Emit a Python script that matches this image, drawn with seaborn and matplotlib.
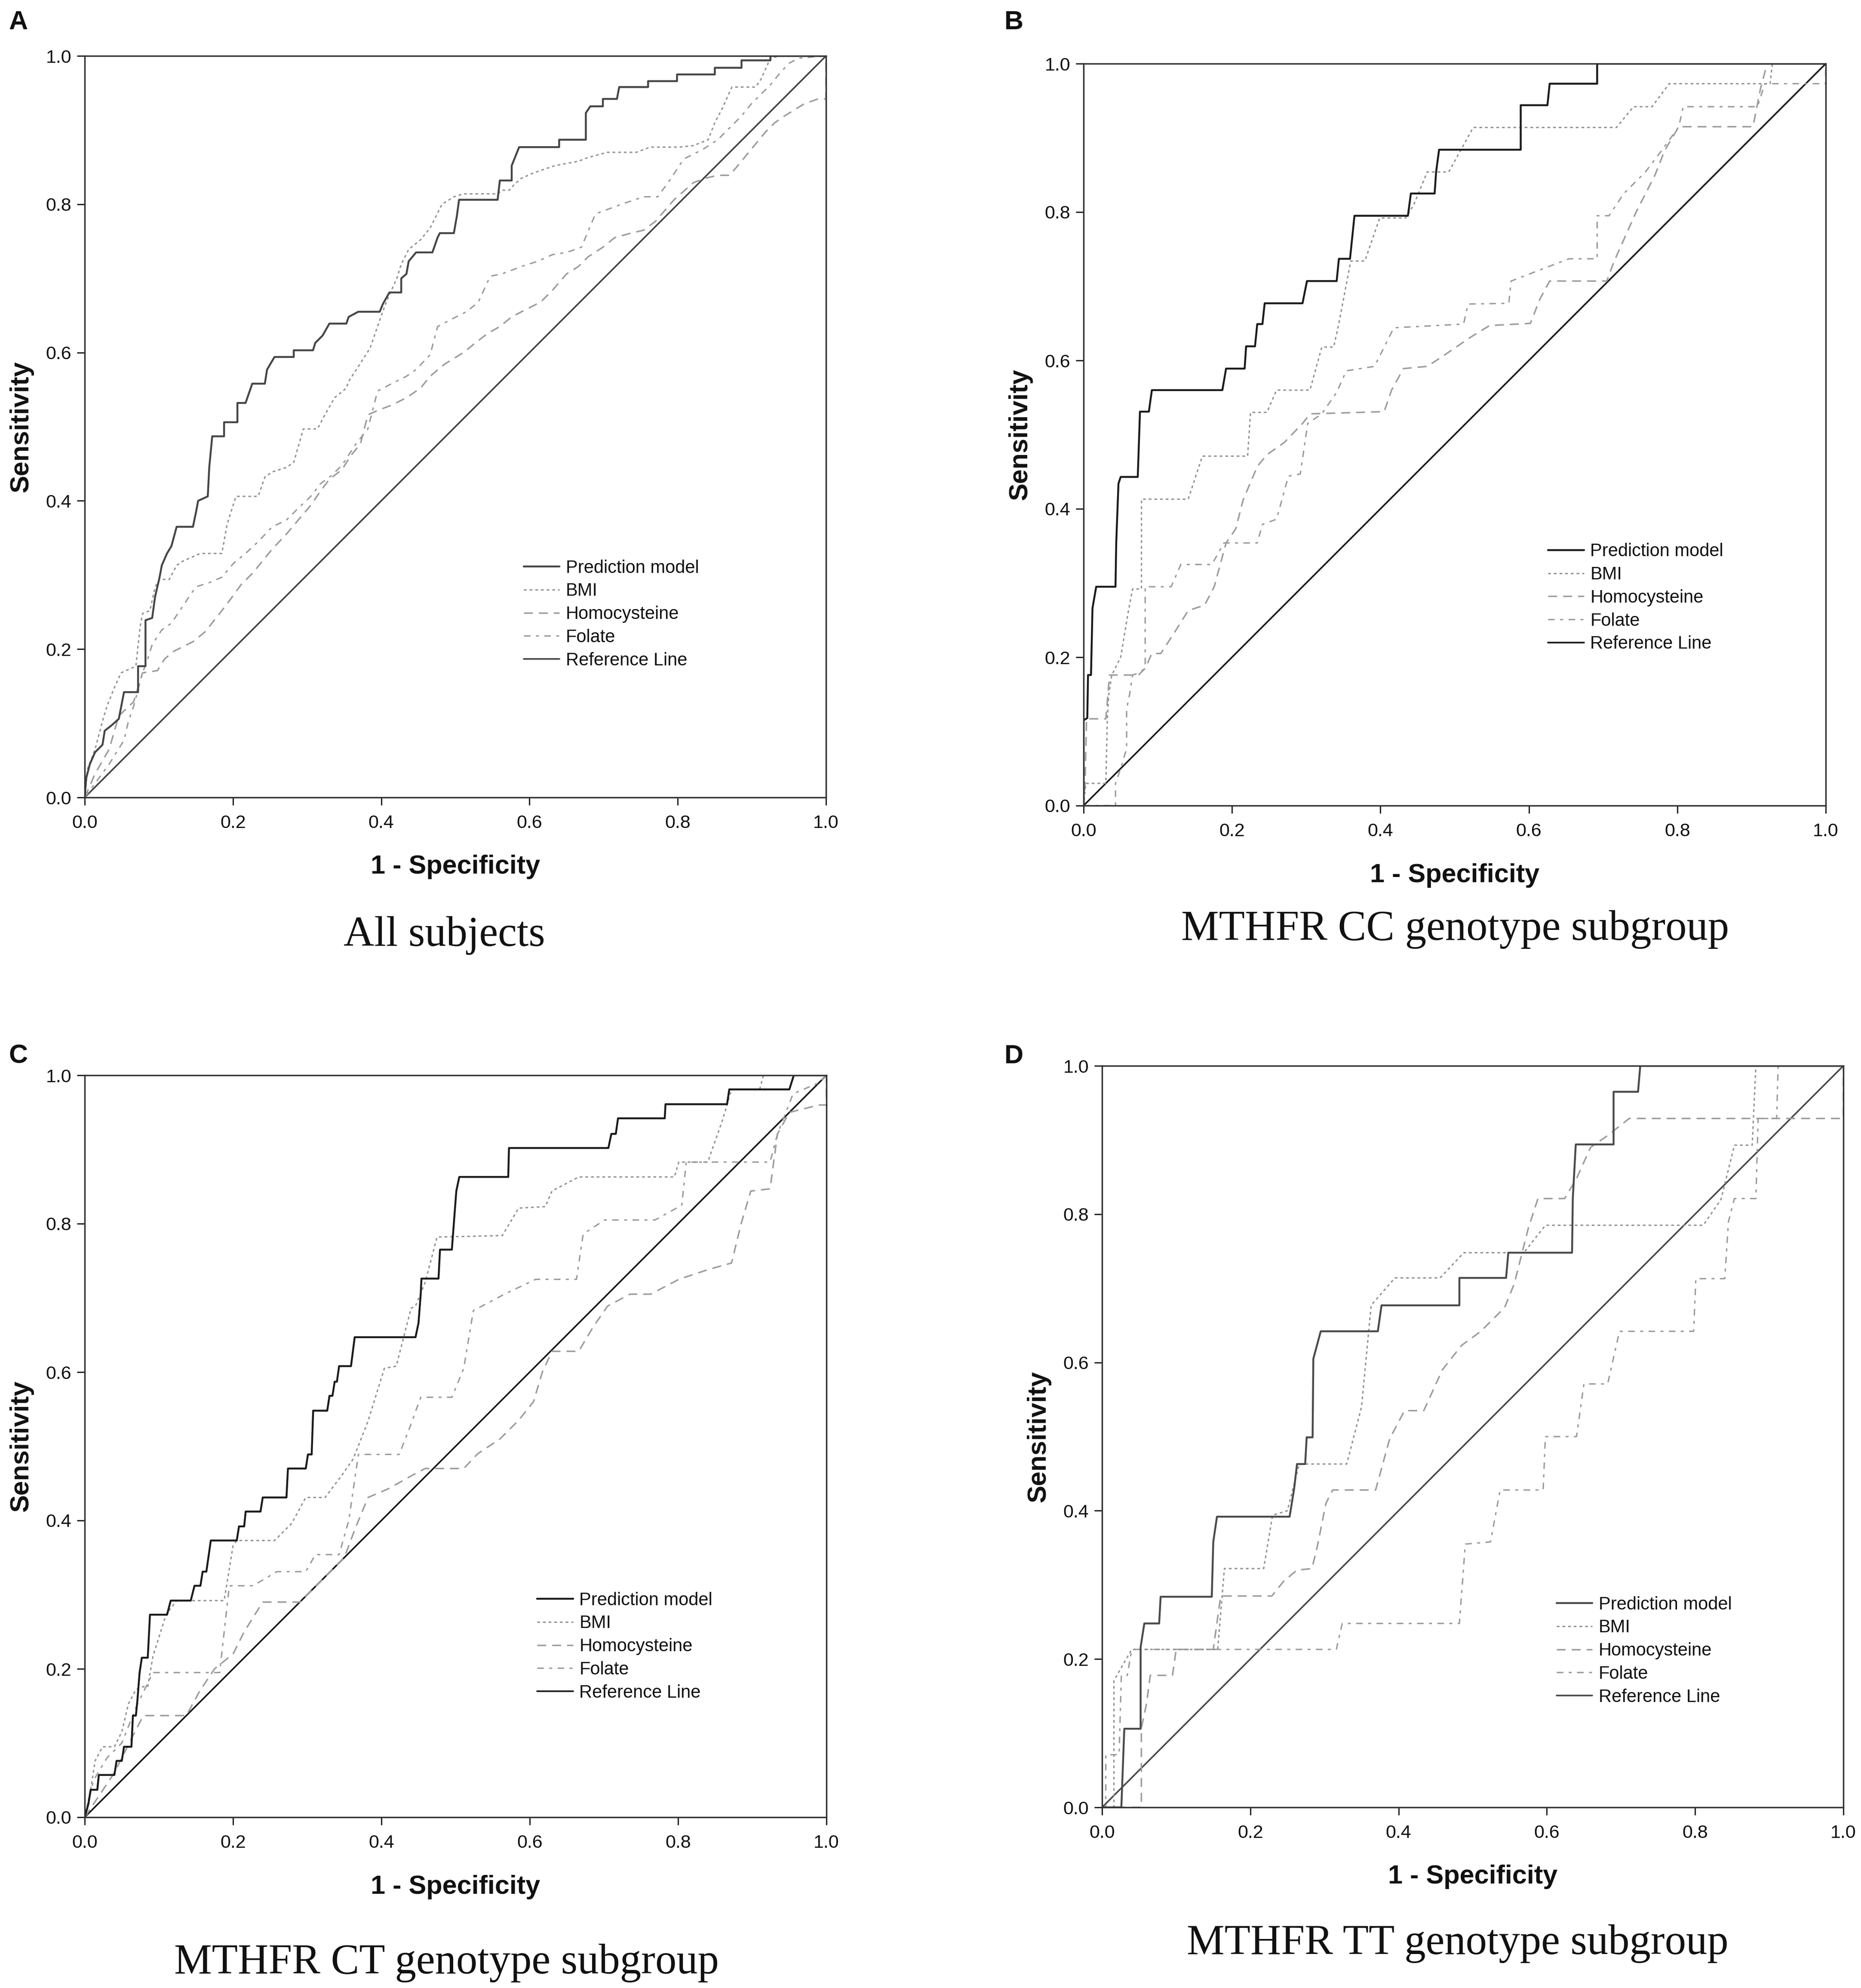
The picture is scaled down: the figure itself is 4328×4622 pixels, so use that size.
import matplotlib
matplotlib.use('Agg')
import matplotlib.pyplot as plt
import seaborn as sns
import pandas as pd

sns.set_theme(style='white')
plt.rcParams['font.family'] = ['Liberation Sans', 'DejaVu Sans']
plt.rcParams['lines.scale_dashes'] = False

# Legend / series names
series_names = ['Prediction model', 'BMI', 'Homocysteine', 'Folate']
ref_name = 'Reference Line'
panel_letters = ['A', 'B', 'C', 'D']
panel_titles = ['All subjects', 'MTHFR CC genotype subgroup',
                'MTHFR CT genotype subgroup', 'MTHFR TT genotype subgroup']
tick_values = [0.0, 0.2, 0.4, 0.6, 0.8, 1.0]
tick_labels = ['0.0', '0.2', '0.4', '0.6', '0.8', '1.0']

# ROC points (1 - specificity, sensitivity)
# Panel A - all subjects
a_pred = [(0, 0), (0.002, 0.026), (0.007, 0.045), (0.014, 0.061), (0.024, 0.071), (0.027, 0.090),
          (0.036, 0.097), (0.046, 0.106), (0.053, 0.142), (0.072, 0.142), (0.072, 0.177), (0.082, 0.177),
          (0.082, 0.239), (0.091, 0.242), (0.095, 0.271), (0.101, 0.297), (0.104, 0.313), (0.111, 0.329),
          (0.117, 0.339), (0.124, 0.365), (0.146, 0.365), (0.150, 0.384), (0.153, 0.400), (0.166, 0.406),
          (0.168, 0.445), (0.172, 0.487), (0.188, 0.487), (0.188, 0.506), (0.206, 0.506), (0.206, 0.532),
          (0.217, 0.532), (0.226, 0.558), (0.243, 0.558), (0.246, 0.577), (0.256, 0.594), (0.282, 0.594),
          (0.282, 0.603), (0.308, 0.603), (0.311, 0.613), (0.321, 0.623), (0.330, 0.639), (0.353, 0.639),
          (0.356, 0.648), (0.369, 0.655), (0.398, 0.655), (0.402, 0.665), (0.411, 0.681), (0.427, 0.681),
          (0.427, 0.700), (0.434, 0.706), (0.437, 0.723), (0.447, 0.735), (0.469, 0.735), (0.476, 0.755),
          (0.479, 0.761), (0.498, 0.761), (0.502, 0.784), (0.505, 0.806), (0.557, 0.806), (0.560, 0.832),
          (0.576, 0.832), (0.576, 0.852), (0.586, 0.877), (0.640, 0.877), (0.640, 0.887), (0.676, 0.887),
          (0.676, 0.923), (0.682, 0.932), (0.699, 0.932), (0.699, 0.942), (0.718, 0.942), (0.721, 0.958),
          (0.760, 0.958), (0.760, 0.966), (0.799, 0.966), (0.799, 0.975), (0.850, 0.975), (0.850, 0.984),
          (0.886, 0.984), (0.886, 0.994), (0.925, 0.994), (0.925, 1.0), (1.0, 1.0)]
a_bmi = [(0, 0), (0.004, 0.039), (0.014, 0.065), (0.024, 0.103), (0.030, 0.123), (0.040, 0.148),
         (0.049, 0.168), (0.069, 0.177), (0.075, 0.232), (0.078, 0.248), (0.088, 0.252), (0.095, 0.284),
         (0.101, 0.294), (0.114, 0.294), (0.124, 0.313), (0.133, 0.319), (0.156, 0.329), (0.185, 0.329),
         (0.192, 0.368), (0.204, 0.406), (0.234, 0.406), (0.243, 0.432), (0.253, 0.439), (0.272, 0.445),
         (0.282, 0.452), (0.295, 0.497), (0.314, 0.497), (0.324, 0.516), (0.337, 0.539), (0.353, 0.552),
         (0.356, 0.561), (0.369, 0.581), (0.385, 0.606), (0.395, 0.635), (0.402, 0.655), (0.408, 0.671),
         (0.421, 0.700), (0.427, 0.719), (0.437, 0.739), (0.453, 0.752), (0.466, 0.768), (0.482, 0.800),
         (0.498, 0.810), (0.511, 0.814), (0.557, 0.814), (0.563, 0.819), (0.573, 0.819), (0.579, 0.826),
         (0.589, 0.835), (0.605, 0.842), (0.634, 0.852), (0.666, 0.858), (0.679, 0.863), (0.705, 0.870),
         (0.744, 0.870), (0.763, 0.877), (0.802, 0.877), (0.821, 0.879), (0.841, 0.887), (0.850, 0.910),
         (0.860, 0.929), (0.873, 0.958), (0.905, 0.958), (0.912, 0.968), (0.925, 0.997), (0.938, 1.0),
         (1.0, 1.0)]
a_hcy = [(0, 0), (0.014, 0.032), (0.033, 0.065), (0.046, 0.110), (0.066, 0.129), (0.078, 0.168),
         (0.098, 0.171), (0.108, 0.187), (0.120, 0.197), (0.146, 0.210), (0.162, 0.223), (0.182, 0.248),
         (0.195, 0.265), (0.211, 0.287), (0.227, 0.303), (0.253, 0.335), (0.272, 0.355), (0.288, 0.374),
         (0.305, 0.394), (0.318, 0.413), (0.330, 0.429), (0.347, 0.442), (0.359, 0.461), (0.372, 0.477),
         (0.382, 0.516), (0.398, 0.523), (0.414, 0.529), (0.434, 0.539), (0.453, 0.552), (0.466, 0.568),
         (0.485, 0.584), (0.511, 0.600), (0.527, 0.613), (0.544, 0.626), (0.560, 0.635), (0.576, 0.648),
         (0.595, 0.658), (0.615, 0.668), (0.631, 0.684), (0.650, 0.706), (0.666, 0.716), (0.679, 0.729),
         (0.699, 0.742), (0.715, 0.755), (0.737, 0.761), (0.754, 0.765), (0.770, 0.777), (0.795, 0.806),
         (0.821, 0.829), (0.837, 0.835), (0.854, 0.839), (0.870, 0.839), (0.886, 0.858), (0.899, 0.874),
         (0.918, 0.897), (0.931, 0.910), (0.944, 0.919), (0.970, 0.935), (0.989, 0.942), (1.0, 0.942),
         (1.0, 1.0)]
a_fol = [(0, 0), (0.014, 0.019), (0.033, 0.045), (0.053, 0.077), (0.059, 0.103), (0.066, 0.123),
         (0.078, 0.168), (0.085, 0.187), (0.091, 0.206), (0.104, 0.226), (0.117, 0.235), (0.137, 0.265),
         (0.150, 0.284), (0.169, 0.290), (0.185, 0.297), (0.201, 0.316), (0.217, 0.329), (0.234, 0.345),
         (0.253, 0.365), (0.272, 0.374), (0.288, 0.390), (0.305, 0.406), (0.318, 0.423), (0.334, 0.435),
         (0.347, 0.448), (0.366, 0.477), (0.382, 0.497), (0.395, 0.548), (0.414, 0.558), (0.434, 0.568),
         (0.447, 0.577), (0.466, 0.597), (0.476, 0.635), (0.495, 0.645), (0.515, 0.655), (0.531, 0.668),
         (0.547, 0.703), (0.563, 0.706), (0.589, 0.716), (0.611, 0.723), (0.631, 0.732), (0.650, 0.735),
         (0.670, 0.742), (0.689, 0.787), (0.708, 0.794), (0.724, 0.800), (0.754, 0.810), (0.773, 0.810),
         (0.789, 0.832), (0.808, 0.861), (0.834, 0.874), (0.854, 0.887), (0.870, 0.903), (0.886, 0.919),
         (0.899, 0.935), (0.912, 0.948), (0.925, 0.961), (0.938, 0.977), (0.950, 0.990), (0.963, 0.997),
         (1.0, 1.0)]

# Panel B - MTHFR CC
b_pred = [(0, 0), (0, 0.115), (0.005, 0.118), (0.006, 0.176), (0.010, 0.176), (0.012, 0.266),
          (0.017, 0.295), (0.043, 0.295), (0.044, 0.354), (0.047, 0.434), (0.050, 0.443), (0.073, 0.443),
          (0.076, 0.531), (0.088, 0.531), (0.092, 0.560), (0.187, 0.560), (0.192, 0.589), (0.217, 0.589),
          (0.219, 0.619), (0.231, 0.619), (0.234, 0.649), (0.241, 0.649), (0.244, 0.677), (0.295, 0.677),
          (0.301, 0.707), (0.341, 0.707), (0.344, 0.737), (0.359, 0.737), (0.365, 0.795), (0.437, 0.795),
          (0.441, 0.825), (0.473, 0.825), (0.475, 0.854), (0.479, 0.884), (0.589, 0.884), (0.589, 0.944),
          (0.625, 0.944), (0.628, 0.973), (0.692, 0.973), (0.692, 1.0), (1.0, 1.0)]
b_bmi = [(0, 0), (0.003, 0.030), (0.030, 0.030), (0.032, 0.117), (0.034, 0.150), (0.038, 0.176),
         (0.050, 0.200), (0.060, 0.260), (0.066, 0.292), (0.078, 0.292), (0.078, 0.413), (0.141, 0.413),
         (0.160, 0.471), (0.221, 0.471), (0.225, 0.530), (0.247, 0.530), (0.260, 0.560), (0.305, 0.560),
         (0.321, 0.618), (0.337, 0.618), (0.344, 0.650), (0.360, 0.734), (0.379, 0.734), (0.399, 0.792),
         (0.434, 0.792), (0.445, 0.810), (0.463, 0.854), (0.492, 0.854), (0.525, 0.914), (0.718, 0.914),
         (0.741, 0.942), (0.766, 0.942), (0.789, 0.973), (0.925, 0.973), (0.928, 1.0), (1.0, 1.0)]
b_hcy = [(0, 0), (0.002, 0.030), (0.004, 0.117), (0.030, 0.117), (0.035, 0.176), (0.074, 0.176),
         (0.083, 0.185), (0.092, 0.205), (0.104, 0.205), (0.121, 0.231), (0.141, 0.263), (0.163, 0.270),
         (0.176, 0.295), (0.192, 0.354), (0.205, 0.373), (0.215, 0.412), (0.234, 0.457), (0.247, 0.473),
         (0.270, 0.489), (0.295, 0.515), (0.305, 0.528), (0.405, 0.531), (0.415, 0.560), (0.431, 0.589),
         (0.463, 0.592), (0.483, 0.605), (0.521, 0.631), (0.547, 0.647), (0.602, 0.650), (0.615, 0.683),
         (0.628, 0.707), (0.705, 0.707), (0.715, 0.734), (0.728, 0.763), (0.744, 0.799), (0.770, 0.850),
         (0.783, 0.883), (0.802, 0.915), (0.902, 0.915), (0.912, 0.966), (0.921, 1.0), (1.0, 1.0)]
b_fol = [(0, 0), (0.043, 0), (0.043, 0.030), (0.050, 0.050), (0.058, 0.077), (0.058, 0.130),
         (0.062, 0.150), (0.066, 0.176), (0.078, 0.180), (0.083, 0.190), (0.083, 0.295), (0.118, 0.295),
         (0.131, 0.325), (0.173, 0.325), (0.189, 0.354), (0.234, 0.354), (0.241, 0.379), (0.260, 0.386),
         (0.276, 0.444), (0.292, 0.447), (0.302, 0.515), (0.321, 0.528), (0.341, 0.557), (0.354, 0.586),
         (0.392, 0.592), (0.405, 0.618), (0.418, 0.644), (0.512, 0.649), (0.518, 0.676), (0.573, 0.677),
         (0.576, 0.707), (0.654, 0.737), (0.692, 0.737), (0.692, 0.795), (0.708, 0.795), (0.728, 0.825),
         (0.757, 0.854), (0.779, 0.883), (0.802, 0.915), (0.808, 0.942), (0.908, 0.942), (0.918, 0.973),
         (1.0, 0.973), (1.0, 1.0)]

# Panel C - MTHFR CT
c_pred = [(0, 0), (0.005, 0.018), (0.008, 0.037), (0.017, 0.037), (0.019, 0.057), (0.040, 0.057),
          (0.043, 0.076), (0.050, 0.076), (0.053, 0.095), (0.063, 0.095), (0.065, 0.137), (0.069, 0.137),
          (0.071, 0.157), (0.074, 0.195), (0.077, 0.215), (0.085, 0.215), (0.088, 0.273), (0.111, 0.273),
          (0.116, 0.292), (0.143, 0.292), (0.148, 0.312), (0.156, 0.312), (0.159, 0.331), (0.164, 0.331),
          (0.170, 0.373), (0.205, 0.373), (0.208, 0.392), (0.215, 0.392), (0.217, 0.412), (0.237, 0.412),
          (0.240, 0.431), (0.272, 0.431), (0.274, 0.470), (0.298, 0.470), (0.301, 0.489), (0.306, 0.489),
          (0.308, 0.548), (0.327, 0.548), (0.330, 0.568), (0.334, 0.568), (0.337, 0.587), (0.340, 0.587),
          (0.343, 0.608), (0.359, 0.608), (0.364, 0.647), (0.446, 0.647), (0.450, 0.666), (0.453, 0.705),
          (0.454, 0.726), (0.477, 0.726), (0.479, 0.765), (0.495, 0.765), (0.498, 0.805), (0.501, 0.844),
          (0.505, 0.863), (0.571, 0.863), (0.572, 0.902), (0.706, 0.902), (0.710, 0.921), (0.716, 0.921),
          (0.719, 0.942), (0.782, 0.942), (0.783, 0.961), (0.866, 0.961), (0.869, 0.981), (0.950, 0.981),
          (0.956, 1.0), (1.0, 1.0)]
c_bmi = [(0, 0), (0.008, 0.037), (0.014, 0.076), (0.024, 0.095), (0.040, 0.095), (0.050, 0.115),
         (0.059, 0.153), (0.069, 0.172), (0.079, 0.176), (0.085, 0.176), (0.092, 0.217), (0.098, 0.236),
         (0.108, 0.268), (0.111, 0.275), (0.124, 0.292), (0.188, 0.292), (0.200, 0.366), (0.205, 0.373),
         (0.256, 0.373), (0.279, 0.396), (0.298, 0.431), (0.324, 0.431), (0.346, 0.460), (0.362, 0.483),
         (0.382, 0.534), (0.404, 0.605), (0.420, 0.608), (0.440, 0.686), (0.446, 0.689), (0.459, 0.721),
         (0.475, 0.782), (0.563, 0.784), (0.585, 0.821), (0.621, 0.823), (0.630, 0.844), (0.666, 0.863),
         (0.795, 0.863), (0.801, 0.883), (0.840, 0.883), (0.860, 0.940), (0.872, 0.981), (0.910, 0.981),
         (0.915, 1.0), (1.0, 1.0)]
c_hcy = [(0, 0), (0.020, 0.030), (0.040, 0.060), (0.060, 0.100), (0.079, 0.137), (0.137, 0.137),
         (0.155, 0.170), (0.175, 0.200), (0.200, 0.220), (0.215, 0.250), (0.240, 0.290), (0.290, 0.290),
         (0.310, 0.310), (0.350, 0.350), (0.365, 0.390), (0.382, 0.431), (0.410, 0.443), (0.440, 0.460),
         (0.459, 0.470), (0.511, 0.470), (0.530, 0.490), (0.560, 0.510), (0.585, 0.535), (0.605, 0.560),
         (0.617, 0.600), (0.630, 0.628), (0.666, 0.628), (0.685, 0.660), (0.705, 0.689), (0.735, 0.705),
         (0.763, 0.705), (0.801, 0.725), (0.840, 0.738), (0.872, 0.747), (0.885, 0.800), (0.898, 0.844),
         (0.924, 0.847), (0.934, 0.921), (0.950, 0.950), (0.990, 0.960), (1.0, 0.960), (1.0, 1.0)]
c_fol = [(0, 0), (0.012, 0.050), (0.030, 0.080), (0.050, 0.100), (0.070, 0.150), (0.092, 0.195),
         (0.182, 0.195), (0.188, 0.250), (0.195, 0.312), (0.227, 0.312), (0.259, 0.331), (0.298, 0.331),
         (0.311, 0.354), (0.343, 0.354), (0.356, 0.400), (0.369, 0.489), (0.424, 0.489), (0.440, 0.530),
         (0.453, 0.566), (0.495, 0.566), (0.511, 0.605), (0.524, 0.683), (0.530, 0.686), (0.566, 0.705),
         (0.608, 0.725), (0.663, 0.725), (0.672, 0.786), (0.701, 0.805), (0.769, 0.805), (0.805, 0.825),
         (0.811, 0.883), (0.924, 0.883), (0.934, 0.921), (0.955, 0.975), (0.990, 0.990), (1.0, 1.0)]

# Panel D - MTHFR TT
d_pred = [(0, 0), (0.026, 0), (0.030, 0.106), (0.052, 0.106), (0.052, 0.216), (0.057, 0.248),
          (0.077, 0.248), (0.079, 0.284), (0.148, 0.284), (0.150, 0.358), (0.155, 0.392), (0.253, 0.392),
          (0.259, 0.429), (0.263, 0.463), (0.274, 0.463), (0.276, 0.499), (0.284, 0.499), (0.285, 0.605),
          (0.295, 0.642), (0.372, 0.642), (0.377, 0.677), (0.482, 0.677), (0.482, 0.714), (0.545, 0.714),
          (0.548, 0.748), (0.634, 0.748), (0.635, 0.821), (0.639, 0.894), (0.690, 0.894), (0.690, 0.965),
          (0.723, 0.965), (0.726, 1.0), (1.0, 1.0)]
d_bmi = [(0, 0), (0.016, 0), (0.016, 0.171), (0.040, 0.213), (0.156, 0.213), (0.165, 0.322),
         (0.218, 0.322), (0.230, 0.394), (0.250, 0.400), (0.266, 0.463), (0.330, 0.463), (0.350, 0.540),
         (0.363, 0.677), (0.395, 0.714), (0.456, 0.714), (0.488, 0.748), (0.569, 0.748), (0.598, 0.785),
         (0.811, 0.785), (0.835, 0.820), (0.853, 0.893), (0.877, 0.893), (0.882, 1.0), (1.0, 1.0)]
d_hcy = [(0, 0), (0.053, 0), (0.053, 0.107), (0.060, 0.140), (0.065, 0.178), (0.095, 0.178),
         (0.100, 0.213), (0.150, 0.213), (0.160, 0.285), (0.229, 0.285), (0.245, 0.305), (0.263, 0.320),
         (0.283, 0.322), (0.290, 0.350), (0.302, 0.410), (0.311, 0.428), (0.369, 0.428), (0.388, 0.497),
         (0.408, 0.535), (0.434, 0.535), (0.459, 0.590), (0.485, 0.623), (0.511, 0.642), (0.543, 0.674),
         (0.556, 0.706), (0.575, 0.781), (0.588, 0.821), (0.624, 0.821), (0.640, 0.848), (0.659, 0.890),
         (0.682, 0.906), (0.711, 0.929), (1.0, 0.929), (1.0, 1.0)]
d_fol = [(0, 0), (0.005, 0), (0.005, 0.071), (0.023, 0.071), (0.026, 0.178), (0.034, 0.178),
         (0.040, 0.213), (0.316, 0.213), (0.324, 0.248), (0.482, 0.248), (0.490, 0.355), (0.524, 0.358),
         (0.537, 0.428), (0.595, 0.428), (0.598, 0.500), (0.640, 0.500), (0.650, 0.571), (0.682, 0.571),
         (0.698, 0.642), (0.798, 0.642), (0.801, 0.713), (0.840, 0.713), (0.845, 0.790), (0.853, 0.821),
         (0.882, 0.821), (0.885, 0.929), (0.910, 0.929), (0.912, 1.0), (1.0, 1.0)]

curves = [[a_pred, a_bmi, a_hcy, a_fol],
          [b_pred, b_bmi, b_hcy, b_fol],
          [c_pred, c_bmi, c_hcy, c_fol],
          [d_pred, d_bmi, d_hcy, d_fol]]

# layout (figure fractions) and styling
W, H = 4328, 4622
axes_rects = [[197 / W, 1 - 1854 / H, 1724 / W, 1724 / H],
              [2520 / W, 1 - 1873 / H, 1726 / W, 1725 / H],
              [197 / W, 1 - 4225 / H, 1725 / W, 1725 / H],
              [2563 / W, 1 - 4202 / H, 1724 / W, 1724 / H]]
letter_pos = [(43, 52), (2358, 52), (43, 2456), (2358, 2456)]
title_pos = [(1033, 2175), (3384, 2161), (1038, 4564), (3390, 4519)]
legend_anchor = [(0.592, 0.321), (0.626, 0.354), (0.610, 0.304), (0.613, 0.285)]
dark_colors = ['#454545', '#1a1a1a', '#1a1a1a', '#4a4a4a']

styles = {
    'BMI': dict(linestyle=(0, (4.5, 5.0)), linewidth=2.3, color='#929292'),
    'Homocysteine': dict(linestyle=(0, (15, 10)), linewidth=2.5, color='#9c9c9c'),
    'Folate': dict(linestyle=(0, (11, 9, 5, 9)), linewidth=2.3, color='#9a9a9a'),
}

fig = plt.figure(figsize=(W / 100, H / 100), dpi=100)
fig.patch.set_facecolor('white')

for i in range(4):
    ax = fig.add_axes(axes_rects[i])
    ax.set_facecolor('white')
    dark = dark_colors[i]
    handles = {}

    ref = pd.DataFrame({'fpr': [0.0, 1.0], 'tpr': [0.0, 1.0]})
    sns.lineplot(data=ref, x='fpr', y='tpr', ax=ax, color=dark, linewidth=2.7,
                 sort=False, estimator=None, legend=False)
    handles[ref_name] = ax.lines[-1]

    # draw lighter curves first, prediction model on top
    for j in [3, 2, 1, 0]:
        name = series_names[j]
        df = pd.DataFrame(curves[i][j], columns=['fpr', 'tpr'])
        if name == 'Prediction model':
            kw = dict(linestyle='-', linewidth=3.2, color=dark)
        else:
            kw = styles[name]
        sns.lineplot(data=df, x='fpr', y='tpr', ax=ax, sort=False, estimator=None,
                     legend=False, **kw)
        handles[name] = ax.lines[-1]

    ax.set_xlim(0, 1)
    ax.set_ylim(0, 1)
    ax.set_xticks(tick_values)
    ax.set_yticks(tick_values)
    ax.set_xticklabels(tick_labels)
    ax.set_yticklabels(tick_labels)
    ax.tick_params(axis='both', which='both', bottom=True, left=True, top=False, right=False,
                   direction='out', length=13, width=2.2, colors='#222222', labelsize=31,
                   labelcolor='#111111')
    ax.tick_params(axis='x', pad=16)
    ax.tick_params(axis='y', pad=9)
    for sp in ax.spines.values():
        sp.set_visible(True)
        sp.set_color('#333333')
        sp.set_linewidth(2.5)

    ax.set_xlabel('1 - Specificity', fontsize=44, fontweight='bold', color='#111111')
    ax.set_ylabel('Sensitivity', fontsize=44, fontweight='bold', color='#111111')
    ax.xaxis.set_label_coords(0.5, -162 / 1724)
    ax.xaxis.label.set_va('center')
    ax.yaxis.set_label_coords(-147 / 1724, 0.5)
    ax.yaxis.label.set_va('center')

    order = series_names + [ref_name]
    ax.legend([handles[n] for n in order], order, loc='upper left',
              bbox_to_anchor=legend_anchor[i], frameon=False, fontsize=30,
              handlelength=2.0, handletextpad=0.35, labelspacing=0.33,
              borderpad=0, borderaxespad=0, labelcolor='#111111')

    lx, ly = letter_pos[i]
    fig.text(lx / W, 1 - ly / H, panel_letters[i], fontsize=44, fontweight='bold',
             ha='center', va='center', color='#111111')
    tx, ty = title_pos[i]
    fig.text(tx / W, 1 - ty / H, panel_titles[i], fontsize=71, ha='center', va='center',
             family=['Liberation Serif', 'DejaVu Serif'], color='#111111')

fig.savefig('out.png', dpi=100, facecolor='white')
